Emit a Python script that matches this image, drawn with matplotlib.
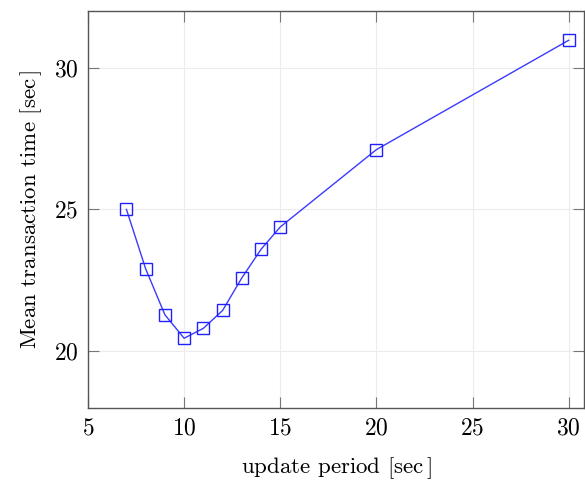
import matplotlib
matplotlib.use("Agg")
import matplotlib.pyplot as plt

## Data
update_period = [7, 8, 9, 10, 11, 12, 13, 14, 15, 20, 30]
mean_time = [25.0, 22.9, 21.28, 20.45, 20.8, 21.43, 22.58, 23.59, 24.38, 27.11, 30.97]
x_ticks = [5, 10, 15, 20, 25, 30]
y_ticks = [20, 25, 30]

plt.rcParams['mathtext.fontset'] = 'cm'
plt.rcParams['font.family'] = ['cmr10', 'DejaVu Serif']
plt.rcParams['axes.formatter.use_mathtext'] = True

## Figure and axes placement
fig = plt.figure(figsize=(5.85, 4.83), dpi=100)
ax = fig.add_axes([0.1504, 0.156, 0.848, 0.821])

ax.plot(update_period, mean_time, color='#3a3aff', linewidth=1.0,
        marker='s', markersize=8, markerfacecolor='none',
        markeredgecolor='#2020ff', markeredgewidth=1.0)

ax.set_xlim(5, 30.8)
ax.set_ylim(18, 32)
ax.set_xticks(x_ticks)
ax.set_yticks(y_ticks)

# pgfplots look: light grid, inward ticks on all sides
ax.grid(True, color='#ececec', linewidth=0.8)
ax.set_axisbelow(True)
for s in ax.spines.values():
    s.set_color('#555555')
    s.set_linewidth(1.0)
ax.tick_params(direction='in', length=8, width=0.8, color='#777777',
               top=True, right=True, labelsize=17, pad=7)

ax.set_xlabel(r"update period $[\mathrm{sec}\,]$", fontsize=16.5, labelpad=11)
ax.set_ylabel(r"Mean transaction time $[\mathrm{sec}\,]$", fontsize=16.5, labelpad=7)

fig.savefig("out.png", dpi=100)
